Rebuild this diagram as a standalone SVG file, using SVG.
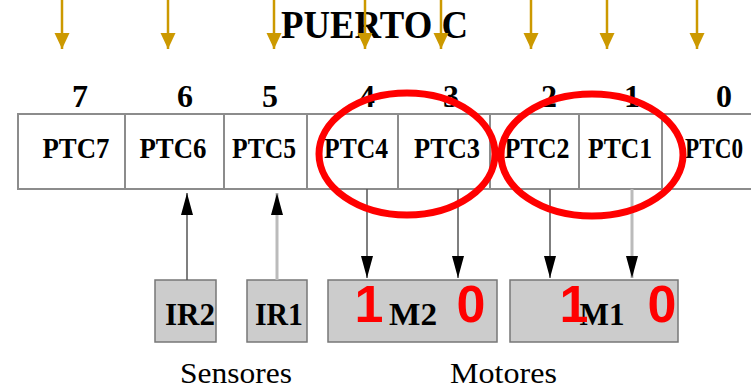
<svg xmlns="http://www.w3.org/2000/svg" width="751" height="392" viewBox="0 0 751 392">
<style>
.ser{font-family:"Liberation Serif","Times New Roman",serif;fill:#000}
.b{font-weight:bold}
.cell{fill:#fff;stroke:#8c8c8c;stroke-width:2}
.box{fill:#cccccc;stroke:#777;stroke-width:1.5}
.lbl{font-size:29px;text-anchor:middle}
.num{font-size:32px;text-anchor:middle}
.blk{font-size:32px;text-anchor:middle}
.red{font-family:"Liberation Sans",Arial,sans-serif;font-weight:bold;font-size:52px;fill:#ff0000;text-anchor:middle}
.gold{stroke:#cc9900;stroke-width:2.5;fill:none}
.dk{stroke:#555;stroke-width:1.5;fill:none}
.lt{stroke:#bbb;stroke-width:3;fill:none}
.ring{fill:none;stroke:#ff0000;stroke-width:7}
</style>
<defs>
<marker id="ag" markerUnits="userSpaceOnUse" markerWidth="17" markerHeight="16" refX="16" refY="7.5" orient="auto"><path d="M0,0 L16,7.5 L0,15 z" fill="#cc9900"/></marker>
<marker id="ab" markerUnits="userSpaceOnUse" markerWidth="23" markerHeight="13" refX="22" refY="6" orient="auto"><path d="M0,0 L22,6 L0,12 z" fill="#000"/></marker>
</defs>
<rect width="751" height="392" fill="#fff"/>
<text id="title" class="ser b" x="281" y="38" font-size="39" textLength="187" lengthAdjust="spacingAndGlyphs">PUERTO C</text>
<g id="register">
<g id="ptc7"><rect class="cell" x="18" y="114" width="107" height="75"/><text class="ser b num" x="80" y="107">7</text><text class="ser b lbl" x="76" y="158" textLength="67" lengthAdjust="spacingAndGlyphs">PTC7</text></g>
<g id="ptc6"><rect class="cell" x="125" y="114" width="99" height="75"/><text class="ser b num" x="185" y="107">6</text><text class="ser b lbl" x="173" y="158" textLength="67" lengthAdjust="spacingAndGlyphs">PTC6</text></g>
<g id="ptc5"><rect class="cell" x="224" y="114" width="83" height="75"/><text class="ser b num" x="270" y="107">5</text><text class="ser b lbl" x="264" y="158" textLength="64" lengthAdjust="spacingAndGlyphs">PTC5</text></g>
<g id="ptc4"><rect class="cell" x="307" y="114" width="91" height="75"/><text class="ser b num" x="367" y="107">4</text><text class="ser b lbl" x="356" y="158" textLength="64" lengthAdjust="spacingAndGlyphs">PTC4</text></g>
<g id="ptc3"><rect class="cell" x="398" y="114" width="92" height="75"/><text class="ser b num" x="451" y="107">3</text><text class="ser b lbl" x="447" y="158" textLength="66" lengthAdjust="spacingAndGlyphs">PTC3</text></g>
<g id="ptc2"><rect class="cell" x="490" y="114" width="89" height="75"/><text class="ser b num" x="549" y="107">2</text><text class="ser b lbl" x="537" y="158" textLength="65" lengthAdjust="spacingAndGlyphs">PTC2</text></g>
<g id="ptc1"><rect class="cell" x="579" y="114" width="83" height="75"/><text class="ser b num" x="632" y="107">1</text><text class="ser b lbl" x="620" y="158" textLength="64" lengthAdjust="spacingAndGlyphs">PTC1</text></g>
<g id="ptc0"><rect class="cell" x="662" y="114" width="95" height="75"/><text class="ser b num" x="724" y="107">0</text><text class="ser b lbl" x="714" y="158" textLength="58" lengthAdjust="spacingAndGlyphs">PTC0</text></g>
</g>
<g id="ir2"><rect class="box" x="155" y="280" width="61" height="62"/><text class="ser b blk" x="190" y="325" textLength="50" lengthAdjust="spacingAndGlyphs">IR2</text></g>
<g id="ir1"><rect class="box" x="247" y="280" width="60" height="62"/><text class="ser b blk" x="279" y="325" textLength="48" lengthAdjust="spacingAndGlyphs">IR1</text></g>
<g id="m2"><rect class="box" x="328" y="280" width="169" height="62"/><text class="ser b blk" x="413" y="325" textLength="48" lengthAdjust="spacingAndGlyphs">M2</text></g>
<g id="m1"><rect class="box" x="510" y="280" width="168" height="62"/><text class="ser b blk" x="602" y="325" textLength="45" lengthAdjust="spacingAndGlyphs">M1</text></g>
<text id="sensores" class="ser" x="180" y="383" font-size="29" textLength="112" lengthAdjust="spacingAndGlyphs">Sensores</text>
<text id="motores" class="ser" x="450" y="383" font-size="29" textLength="107" lengthAdjust="spacingAndGlyphs">Motores</text>
<g id="connectors">
<line class="gold" x1="62" y1="0" x2="62" y2="49" marker-end="url(#ag)"/>
<line class="gold" x1="168" y1="0" x2="168" y2="49" marker-end="url(#ag)"/>
<line class="gold" x1="274" y1="0" x2="274" y2="49" marker-end="url(#ag)"/>
<line class="gold" x1="365" y1="0" x2="365" y2="49" marker-end="url(#ag)"/>
<line class="gold" x1="441" y1="0" x2="441" y2="49" marker-end="url(#ag)"/>
<line class="gold" x1="531" y1="0" x2="531" y2="49" marker-end="url(#ag)"/>
<line class="gold" x1="607" y1="0" x2="607" y2="49" marker-end="url(#ag)"/>
<line class="gold" x1="697" y1="0" x2="697" y2="49" marker-end="url(#ag)"/>
<line class="dk" x1="187" y1="280" x2="187" y2="193" marker-end="url(#ab)"/>
<line class="lt" x1="277" y1="280" x2="277" y2="193" marker-end="url(#ab)"/>
<line class="dk" x1="367" y1="189" x2="367" y2="278" marker-end="url(#ab)"/>
<line class="dk" x1="458" y1="189" x2="458" y2="278" marker-end="url(#ab)"/>
<line class="dk" x1="550" y1="189" x2="550" y2="278" marker-end="url(#ab)"/>
<line class="lt" x1="632" y1="189" x2="632" y2="278" marker-end="url(#ab)"/>
</g>
<g id="marks">
<ellipse class="ring" cx="407" cy="154" rx="88" ry="61"/>
<ellipse class="ring" cx="592" cy="155" rx="91" ry="61"/>
<text class="red" x="369" y="322">1</text>
<text class="red" x="471" y="322">0</text>
<text class="red" x="574" y="322">1</text>
<text class="red" x="662" y="322">0</text>
</g>
</svg>
